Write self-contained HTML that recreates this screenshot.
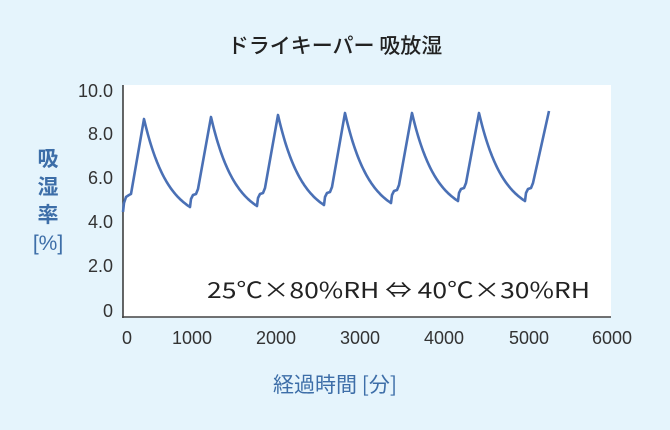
<!DOCTYPE html>
<html><head><meta charset="utf-8"><style>
html,body{margin:0;padding:0}
body{width:670px;height:430px;background:#e5f4fc;position:relative;overflow:hidden;font-family:"Liberation Sans","Noto Sans CJK JP",sans-serif}
.t{position:absolute;white-space:nowrap}
</style></head><body>
<svg width="670" height="430" style="position:absolute;left:0;top:0">
<rect x="123" y="85" width="488" height="232" fill="#fff"/>
<line x1="123" y1="85" x2="123" y2="318" stroke="#333" stroke-width="1.5"/>
<line x1="122" y1="317" x2="611" y2="317" stroke="#444" stroke-width="1.5"/>
<path id="c" fill="none" stroke="#4a70b5" stroke-width="2.6" stroke-linejoin="round"/>
<g font-size="18" fill="#333" font-family="Liberation Sans, sans-serif" text-anchor="end">
<text x="113" y="97">10.0</text><text x="113" y="140">8.0</text><text x="113" y="184">6.0</text>
<text x="113" y="228">4.0</text><text x="113" y="272">2.0</text><text x="113" y="317">0</text>
</g>
<g font-size="18" fill="#333" font-family="Liberation Sans, sans-serif" text-anchor="middle">
<text x="127" y="344">0</text><text x="192" y="344">1000</text><text x="276" y="344">2000</text>
<text x="360" y="344">3000</text><text x="444" y="344">4000</text><text x="529" y="344">5000</text><text x="612" y="344">6000</text>
</g>
<text x="207" y="298" font-size="22" fill="#222" font-family="Noto Sans CJK JP, sans-serif" textLength="383" lengthAdjust="spacingAndGlyphs">25℃×80%RH ⇔ 40℃×30%RH</text>
</svg>
<div class="t" style="left:0;width:670px;text-align:center;top:30px;font-size:21px;color:#222;font-family:'Noto Sans CJK JP',sans-serif;font-weight:500">ドライキーパー 吸放湿</div>
<div class="t" style="left:30px;top:146px;width:36px;text-align:center;font-size:21px;line-height:28px;color:#3d6ea8;font-weight:bold">吸<br>湿<br>率</div>
<div class="t" style="left:27px;top:232px;width:42px;text-align:center;font-size:21px;color:#3d6ea8">[%]</div>
<div class="t" style="left:0;width:670px;text-align:center;top:369px;font-size:21px;color:#3d6ea8;font-family:'Noto Sans CJK JP',sans-serif">経過時間 [分]</div>
<script>
var P=67,peaksY=[119,117,115,113,113,113],minY=[207,206,205,203,201,201];
var out="M123 212 L124 203 L126 197 L129 195 L131 194 L144 119 ";
var ym=212;
for(var i=0;i<7;i++){
 var xm=123+P*i;
 if(i>0){
  var yp=(i<6)?peaksY[i]:111;
  var xp=(i<6)?xm+21:549;
  out+="L"+(xm+1)+" "+(ym-8)+" L"+(xm+3)+" "+(ym-12)+" L"+(xm+6)+" "+(ym-13)+" L"+(xm+8)+" "+(ym-18)+" L"+xp+" "+yp+" ";
 }
 if(i==6)break;
 var ypk=peaksY[i],ymin=minY[i],T=46,k=1.9;
 for(var t=1;t<=T;t++){var f=(Math.exp(-k*t/T)-Math.exp(-k))/(1-Math.exp(-k));out+="L"+(xm+21+t)+" "+(ymin-(ymin-ypk)*f).toFixed(1)+" ";}
 ym=ymin;
}
document.getElementById("c").setAttribute("d",out);
</script>
</body></html>
